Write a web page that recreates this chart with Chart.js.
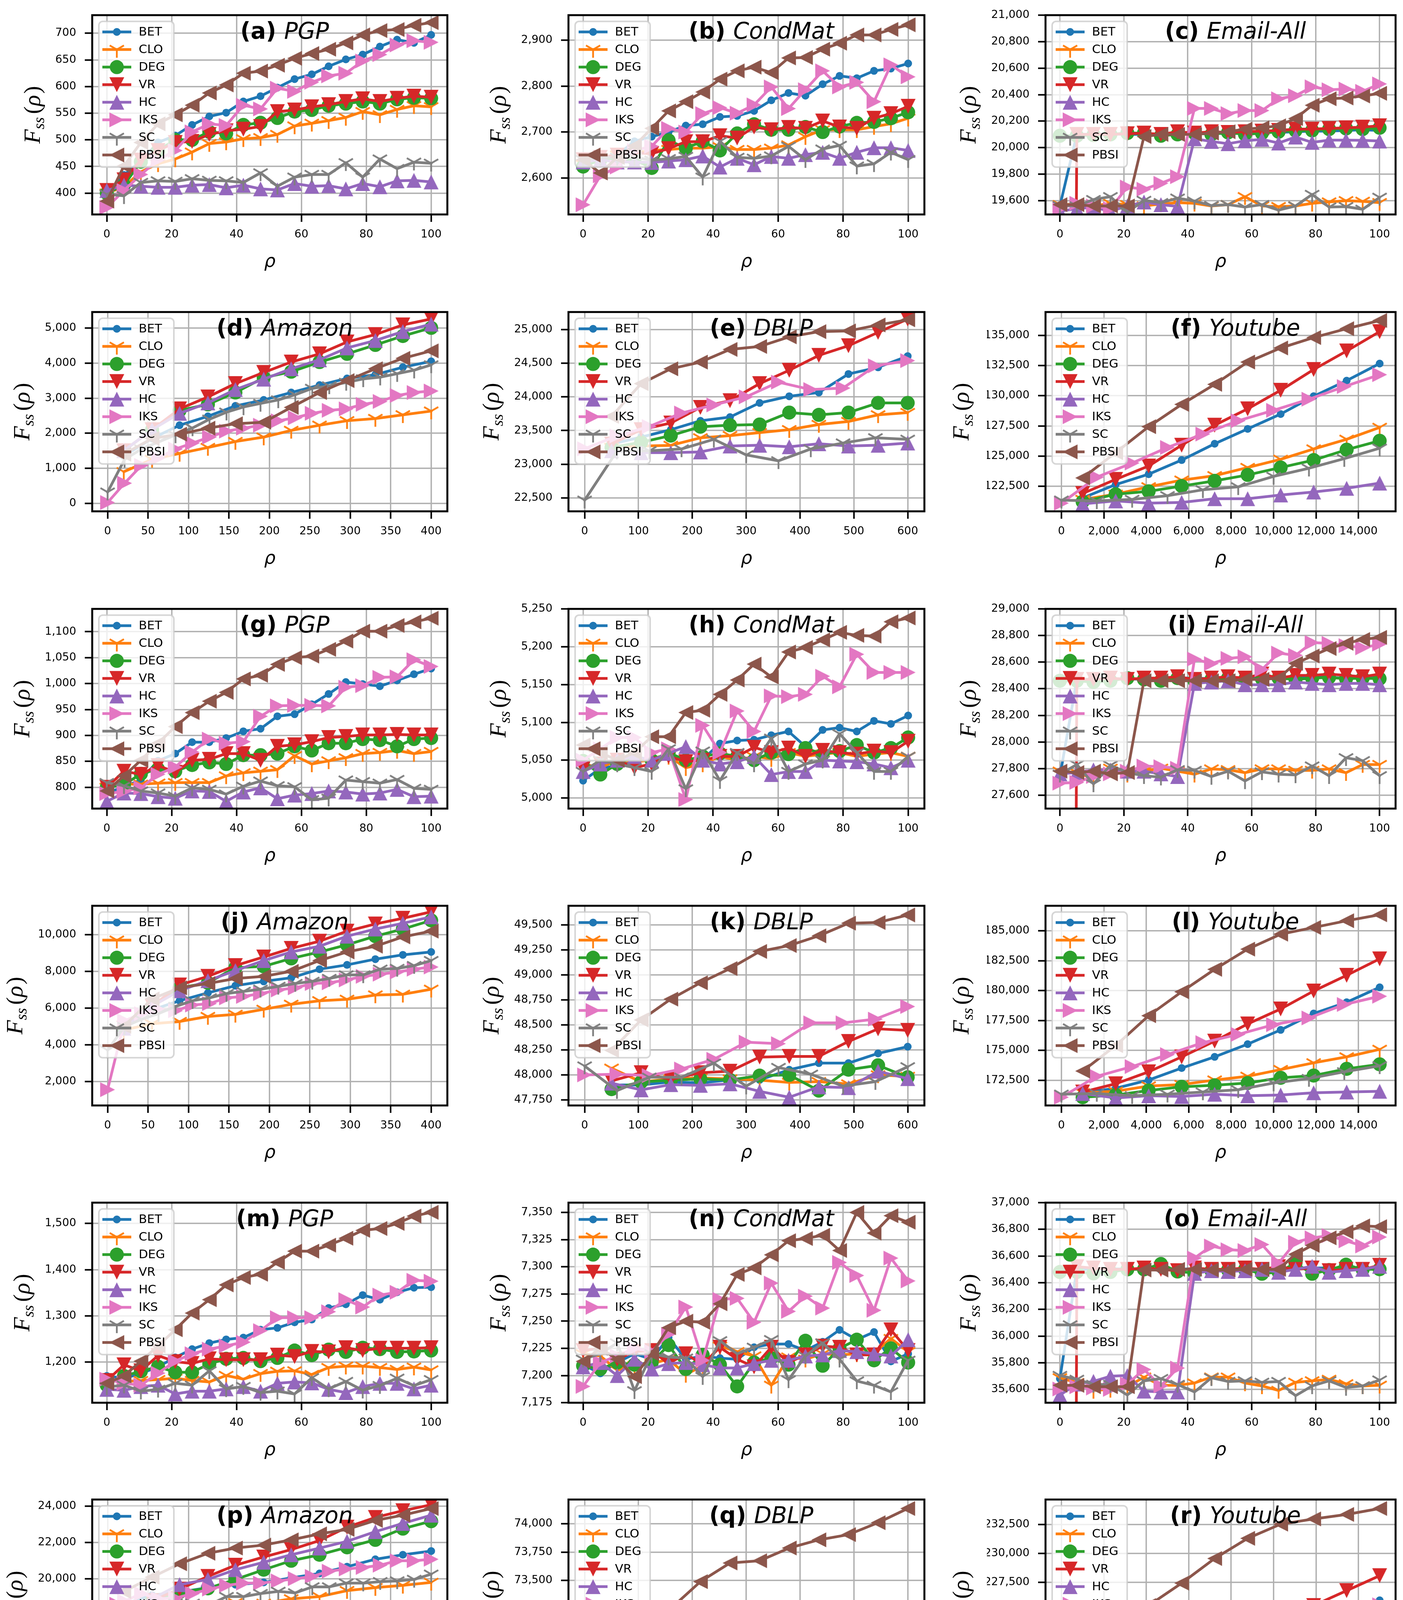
<!DOCTYPE html>
<html>
<head>
<meta charset="utf-8">
<script src="https://cdn.jsdelivr.net/npm/chart.js@4.4.1/dist/chart.umd.min.js"></script>
<style>
  body { margin: 0; background: #fff; }
  #fig { position: relative; width: 3591px; height: 4501px; background: #fff; }
  #fig canvas { position: absolute; }
</style>
</head>
<body>
<div id="fig"></div>
<script>
// series order used in every panel
const methods = ['BET', 'CLO', 'DEG', 'VR', 'HC', 'IKS', 'SC', 'PBSI'];
const colors = ['#1f77b4', '#ff7f0e', '#2ca02c', '#d62728', '#9467bd', '#e377c2', '#7f7f7f', '#8c564b'];

// x positions (rho)
const xP = [0, 5.3, 10.5, 15.8, 21.1, 26.3, 31.6, 36.8, 42.1, 47.4, 52.6, 57.9, 63.2, 68.4, 73.7, 78.9, 84.2, 89.5, 94.7, 100];
const xA0 = [0, 21, 42, 63, 84, 105, 126, 147, 168, 189, 211, 232, 253, 274, 295, 316, 337, 358, 379, 400];
const xA1 = [20, 55, 89, 124, 158, 193, 227, 262, 296, 331, 365, 400];
const xD0 = [0, 60, 120, 180, 240, 300, 360, 420, 480, 540, 600];
const xD1 = [50, 105, 160, 215, 270, 325, 380, 435, 490, 545, 600];
const xY0 = [0, 1667, 3333, 5000, 6667, 8333, 10000, 11667, 13333, 15000];
const xY1 = [1000, 2556, 4111, 5667, 7222, 8778, 10333, 11889, 13444, 15000];

// x tick labels
const xTicksP = [0, 20, 40, 60, 80, 100];
const xTicksA = [0, 50, 100, 150, 200, 250, 300, 350, 400];
const xTicksD = [0, 100, 200, 300, 400, 500, 600];
const xTicksY = [0, 2000, 4000, 6000, 8000, 10000, 12000, 14000];

// y tick labels per panel
const yTicksA = [400, 450, 500, 550, 600, 650, 700];
const yTicksB = [2600, 2700, 2800, 2900];
const yTicksC = [19600, 19800, 20000, 20200, 20400, 20600, 20800, 21000];
const yTicksD = [0, 1000, 2000, 3000, 4000, 5000];
const yTicksE = [22500, 23000, 23500, 24000, 24500, 25000];
const yTicksF = [122500, 125000, 127500, 130000, 132500, 135000];
const yTicksG = [800, 850, 900, 950, 1000, 1050, 1100];
const yTicksH = [5000, 5050, 5100, 5150, 5200, 5250];
const yTicksI = [27600, 27800, 28000, 28200, 28400, 28600, 28800, 29000];
const yTicksJ = [2000, 4000, 6000, 8000, 10000];
const yTicksK = [47750, 48000, 48250, 48500, 48750, 49000, 49250, 49500];
const yTicksL = [172500, 175000, 177500, 180000, 182500, 185000];
const yTicksM = [1200, 1300, 1400, 1500];
const yTicksN = [7175, 7200, 7225, 7250, 7275, 7300, 7325, 7350];
const yTicksO = [35600, 35800, 36000, 36200, 36400, 36600, 36800, 37000];
const yTicksP = [14000, 16000, 18000, 20000, 22000, 24000];
const yTicksQ = [72500, 72750, 73000, 73250, 73500, 73750, 74000];
const yTicksR = [217500, 220000, 222500, 225000, 227500, 230000, 232500];

// F_ss values, rows in the order BET, CLO, DEG, VR, HC, IKS, SC, PBSI
const fssA = [
  [400, 434, 460, 495, 508, 528, 544, 551, 572, 582, 598, 614, 623, 638, 651, 660, 675, 688, 682, 697],
  [400, 412, 440, 455, 464, 477, 493, 496, 502, 504, 510, 526, 531, 536, 542, 553, 547, 557, 564, 562],
  [400, 415, 459, 480, 500, 500, 515, 512, 528, 532, 541, 553, 556, 564, 568, 572, 568, 576, 579, 578],
  [405, 425, 462, 480, 495, 497, 510, 517, 520, 525, 553, 556, 562, 566, 572, 577, 572, 578, 582, 580],
  [405, 415, 413, 411, 411, 415, 416, 410, 415, 408, 406, 418, 413, 414, 408, 418, 412, 423, 424, 421],
  [373, 405, 435, 462, 480, 515, 530, 527, 565, 558, 597, 591, 608, 620, 625, 648, 660, 678, 686, 683],
  [398, 395, 420, 423, 422, 427, 424, 423, 420, 438, 413, 430, 435, 435, 457, 430, 464, 446, 458, 456],
  [385, 451, 495, 530, 547, 565, 588, 603, 625, 629, 640, 653, 662, 670, 682, 697, 705, 707, 715, 720]
];
const fssB = [
  [2625, 2640, 2650, 2680, 2690, 2700, 2714, 2717, 2733, 2735, 2746, 2769, 2785, 2779, 2804, 2822, 2817, 2833, 2838, 2849],
  [2630, 2645, 2650, 2655, 2660, 2662, 2665, 2665, 2668, 2662, 2662, 2665, 2672, 2690, 2705, 2705, 2705, 2712, 2718, 2730],
  [2625, 2640, 2640, 2640, 2622, 2682, 2665, 2680, 2660, 2697, 2717, 2705, 2705, 2711, 2700, 2712, 2720, 2722, 2730, 2743],
  [2640, 2645, 2650, 2655, 2653, 2664, 2679, 2679, 2692, 2687, 2711, 2705, 2710, 2708, 2724, 2711, 2708, 2730, 2740, 2756],
  [2635, 2640, 2635, 2635, 2634, 2637, 2640, 2648, 2624, 2643, 2629, 2647, 2643, 2651, 2656, 2643, 2656, 2666, 2666, 2660],
  [2542, 2605, 2624, 2660, 2669, 2708, 2700, 2740, 2753, 2741, 2759, 2798, 2751, 2792, 2833, 2798, 2808, 2766, 2846, 2820],
  [2640, 2645, 2645, 2645, 2639, 2642, 2647, 2602, 2680, 2645, 2643, 2648, 2669, 2640, 2663, 2671, 2626, 2631, 2656, 2640],
  [2640, 2611, 2645, 2670, 2708, 2746, 2766, 2787, 2815, 2833, 2841, 2829, 2861, 2862, 2880, 2893, 2911, 2911, 2923, 2933]
];
const fssC = [
  [19560, 20100, 20100, 20105, 20100, 20100, 20105, 20110, 20100, 20110, 20105, 20110, 20120, 20115, 20120, 20125, 20125, 20130, 20135, 20130],
  [19570, 19575, 19560, 19580, 19570, 19560, 19575, 19585, 19580, 19560, 19570, 19630, 19560, 19555, 19560, 19580, 19590, 19600, 19595, 19585],
  [20090, 20090, 20095, 20100, 20110, 20110, 20090, 20100, 20110, 20100, 20115, 20100, 20110, 20120, 20130, 20130, 20140, 20145, 20140, 20150],
  [0, 20100, 20100, 20100, 20105, 20110, 20100, 20120, 20110, 20120, 20115, 20120, 20125, 20130, 20140, 20140, 20145, 20150, 20155, 20165],
  [19520, 19540, 19550, 19520, 19560, 19590, 19570, 19557, 20067, 20047, 20030, 20052, 20063, 20035, 20080, 20040, 20057, 20057, 20055, 20050],
  [19540, 19580, 19560, 19540, 19703, 19686, 19731, 19781, 20296, 20296, 20257, 20280, 20280, 20369, 20392, 20459, 20437, 20442, 20425, 20481],
  [19563, 19560, 19608, 19630, 19513, 19602, 19585, 19619, 19597, 19563, 19570, 19552, 19570, 19529, 19560, 19647, 19552, 19555, 19535, 19625],
  [19570, 19570, 19560, 19560, 19560, 20084, 20100, 20100, 20100, 20110, 20120, 20140, 20150, 20165, 20220, 20320, 20369, 20375, 20390, 20410]
];
const fssD = [
  [1350, 1850, 2228, 2483, 2780, 2950, 3162, 3374, 3565, 3671, 3884, 4053],
  [900, 1250, 1422, 1592, 1762, 1889, 2080, 2228, 2356, 2419, 2525, 2632],
  [1500, 2100, 2650, 2823, 3162, 3586, 3756, 4032, 4266, 4520, 4775, 5008],
  [1500, 2100, 2695, 3035, 3417, 3735, 4032, 4266, 4605, 4817, 5093, 5263],
  [1500, 2100, 2568, 2865, 3247, 3544, 3841, 4096, 4435, 4648, 4902, 5115],
  [21, 573, 1082, 1294, 1549, 1719, 1889, 2059, 2144, 2228, 2356, 2441, 2568, 2653, 2695, 2823, 2907, 3077, 3162, 3205],
  [318, 1252, 1549, 1750, 1950, 2150, 2400, 2600, 2750, 2850, 2950, 3100, 3280, 3350, 3450, 3550, 3600, 3700, 3800, 3950],
  [1400, 1850, 1974, 2144, 2271, 2313, 2738, 3162, 3502, 3841, 4138, 4351]
];
const fssE = [
  [23300, 23403, 23513, 23645, 23700, 23910, 24009, 24064, 24339, 24438, 24604],
  [23250, 23271, 23280, 23392, 23425, 23469, 23513, 23590, 23634, 23733, 23767],
  [23250, 23326, 23425, 23557, 23579, 23590, 23767, 23733, 23767, 23910, 23910],
  [23300, 23513, 23612, 23843, 23943, 24196, 24394, 24615, 24758, 24956, 25154],
  [23200, 23172, 23172, 23183, 23271, 23282, 23260, 23304, 23271, 23282, 23315],
  [23230, 23420, 23560, 23760, 23880, 24000, 24218, 24108, 24130, 24460, 24537],
  [22467, 23194, 23200, 23227, 23370, 23139, 23051, 23227, 23315, 23392, 23370],
  [23711, 24196, 24416, 24515, 24703, 24747, 24890, 24967, 24978, 25066, 25143]
];
const fssF = [
  [121541, 122647, 123508, 124676, 126028, 127257, 128486, 129961, 131251, 132665],
  [121418, 121849, 122463, 123016, 123385, 124061, 124737, 125597, 126396, 127380],
  [121234, 121849, 122094, 122525, 122955, 123447, 124061, 124676, 125536, 126273],
  [121910, 123078, 124184, 125905, 127564, 128916, 130452, 132173, 133709, 135307],
  [121050, 121296, 121111, 121173, 121480, 121480, 121787, 122033, 122340, 122770],
  [121111, 123262, 124430, 125720, 126827, 127933, 128793, 129715, 130760, 131744],
  [121357, 121296, 121418, 121726, 122217, 122463, 123324, 124000, 124799, 125659],
  [123200, 125290, 127441, 129285, 130944, 132788, 133955, 134816, 135553, 136229]
];
const fssG = [
  [790, 800, 815, 851, 865, 887, 887, 895, 908, 913, 937, 941, 960, 980, 1003, 999, 995, 1006, 1018, 1029],
  [800, 806, 806, 808, 809, 809, 809, 822, 828, 831, 834, 861, 845, 851, 857, 865, 867, 871, 865, 869],
  [800, 805, 826, 835, 831, 843, 848, 845, 862, 862, 865, 879, 871, 885, 885, 893, 891, 879, 893, 895],
  [800, 831, 825, 842, 829, 852, 854, 865, 865, 852, 879, 882, 888, 896, 898, 901, 901, 902, 901, 901],
  [773, 789, 788, 782, 779, 793, 792, 773, 791, 799, 778, 785, 788, 793, 791, 787, 789, 796, 782, 783],
  [788, 792, 799, 825, 839, 868, 893, 885, 888, 937, 957, 958, 958, 957, 993, 996, 1012, 1013, 1046, 1033],
  [809, 803, 793, 789, 783, 799, 796, 787, 802, 812, 803, 801, 776, 779, 814, 811, 808, 815, 798, 796],
  [793, 822, 852, 885, 917, 944, 966, 983, 1009, 1016, 1037, 1050, 1053, 1066, 1082, 1101, 1101, 1112, 1119, 1126]
];
const fssH = [
  [5023, 5039, 5043, 5050, 5050, 5055, 5049, 5051, 5072, 5076, 5077, 5083, 5088, 5068, 5090, 5093, 5088, 5102, 5098, 5109],
  [5045, 5040, 5050, 5048, 5050, 5055, 5040, 5045, 5055, 5050, 5055, 5052, 5060, 5055, 5058, 5060, 5055, 5058, 5060, 5055],
  [5049, 5031, 5045, 5055, 5050, 5060, 5050, 5055, 5059, 5055, 5050, 5060, 5058, 5066, 5058, 5062, 5070, 5060, 5066, 5080],
  [5039, 5045, 5050, 5040, 5045, 5055, 5048, 5050, 5055, 5055, 5067, 5060, 5066, 5055, 5063, 5060, 5058, 5062, 5060, 5075],
  [5035, 5045, 5050, 5055, 5050, 5059, 5068, 5050, 5045, 5048, 5055, 5031, 5035, 5035, 5050, 5049, 5048, 5045, 5040, 5050],
  [5050, 5065, 5080, 5080, 5060, 5065, 4998, 5096, 5060, 5115, 5088, 5135, 5134, 5137, 5161, 5147, 5190, 5166, 5166, 5166],
  [5035, 5050, 5045, 5040, 5035, 5065, 5012, 5062, 5023, 5060, 5045, 5079, 5035, 5045, 5050, 5085, 5060, 5035, 5035, 5055],
  [5070, 5060, 5050, 5060, 5081, 5081, 5113, 5116, 5137, 5156, 5177, 5160, 5193, 5199, 5209, 5219, 5215, 5214, 5233, 5238]
];
const fssI = [
  [27740, 28470, 28470, 28475, 28470, 28475, 28470, 28480, 28480, 28475, 28480, 28480, 28485, 28480, 28485, 28490, 28485, 28480, 28485, 28480],
  [27780, 27770, 27724, 27802, 27757, 27780, 27802, 27780, 27757, 27797, 27791, 27769, 27797, 27797, 27786, 27786, 27797, 27769, 27830, 27830],
  [28460, 28460, 28450, 28460, 28480, 28470, 28460, 28480, 28460, 28470, 28480, 28470, 28475, 28480, 28470, 28480, 28485, 28475, 28480, 28475],
  [0, 28470, 28470, 28480, 28470, 28480, 28480, 28490, 28470, 28480, 28490, 28480, 28510, 28480, 28500, 28500, 28510, 28500, 28490, 28510],
  [27760, 27770, 27790, 27790, 27780, 27780, 27760, 27740, 28440, 28450, 28460, 28430, 28430, 28430, 28450, 28440, 28430, 28440, 28440, 28430],
  [27690, 27696, 27740, 27760, 27780, 27819, 27814, 27802, 28623, 28589, 28628, 28640, 28544, 28668, 28651, 28747, 28741, 28724, 28707, 28735],
  [27757, 27830, 27684, 27825, 27769, 27746, 27735, 27791, 27786, 27740, 27780, 27707, 27775, 27757, 27752, 27819, 27746, 27881, 27859, 27746],
  [27780, 27770, 27780, 27760, 27770, 28460, 28460, 28460, 28460, 28460, 28460, 28470, 28470, 28480, 28590, 28646, 28702, 28741, 28770, 28786]
];
const fssJ = [
  [5000, 5900, 6399, 6830, 7221, 7456, 7652, 8121, 8356, 8669, 8904, 9061],
  [4800, 5147, 5264, 5538, 5656, 5930, 6204, 6399, 6477, 6712, 6751, 7025],
  [4900, 6100, 7104, 7378, 8200, 8278, 8708, 9061, 9452, 9922, 10313, 10783],
  [4900, 6100, 7260, 7730, 8317, 8787, 9256, 9648, 10196, 10587, 10900, 11252],
  [4900, 6100, 6947, 7495, 8043, 8591, 9061, 9374, 9922, 10313, 10626, 10978],
  [1546, 5303, 5695, 5930, 5852, 6165, 6243, 6556, 6634, 6790, 6986, 7104, 7339, 7378, 7534, 7730, 7847, 7965, 8121, 8239],
  [3699, 4990, 5382, 5700, 6086, 6399, 6556, 6790, 6908, 7025, 7182, 7339, 7456, 7613, 7808, 7808, 8121, 8160, 8317, 8591],
  [5000, 6500, 7104, 7339, 7613, 7730, 8004, 8591, 9061, 9374, 9883, 10196]
];
const fssK = [
  [47900, 47900, 47930, 47920, 47950, 47950, 48052, 48118, 48118, 48215, 48282],
  [48067, 47930, 47960, 47970, 47960, 47948, 47925, 47933, 47910, 48000, 47985],
  [47858, 47930, 47948, 47960, 47950, 47993, 48000, 47843, 48052, 48096, 47977],
  [47940, 48022, 47955, 48022, 48037, 48178, 48185, 48185, 48334, 48460, 48445],
  [47918, 47851, 47903, 47896, 47911, 47836, 47777, 47881, 47873, 48037, 47963],
  [48000, 48007, 47993, 48059, 48156, 48327, 48312, 48520, 48520, 48557, 48683],
  [48089, 47843, 47977, 47977, 48118, 47888, 48074, 48007, 47888, 47933, 48081],
  [48245, 48549, 48757, 48920, 49062, 49233, 49292, 49389, 49515, 49522, 49597]
];
const fssL = [
  [171461, 171836, 172525, 173526, 174464, 175528, 176717, 178093, 179032, 180283],
  [171461, 171586, 172024, 172149, 172525, 172838, 173401, 173964, 174464, 175090],
  [171086, 171274, 171649, 171962, 172087, 172275, 172713, 172900, 173464, 173839],
  [171524, 172212, 173213, 174464, 175779, 177218, 178469, 179971, 181285, 182660],
  [171399, 171023, 171211, 171148, 171336, 171211, 171274, 171461, 171524, 171586],
  [171086, 172838, 173651, 174652, 175653, 176341, 177155, 177718, 178844, 179532],
  [171336, 171399, 171211, 171336, 171524, 171712, 172275, 172650, 173213, 173714],
  [173276, 175403, 177906, 179908, 181785, 183474, 184725, 185288, 185851, 186351]
];
const fssM = [
  [1170, 1165, 1175, 1190, 1210, 1228, 1241, 1249, 1253, 1270, 1274, 1286, 1292, 1317, 1325, 1345, 1335, 1351, 1361, 1362],
  [1160, 1158, 1160, 1162, 1165, 1160, 1157, 1171, 1163, 1175, 1180, 1181, 1173, 1188, 1191, 1191, 1188, 1184, 1189, 1183],
  [1150, 1170, 1180, 1190, 1178, 1178, 1196, 1207, 1209, 1202, 1209, 1225, 1215, 1227, 1222, 1231, 1228, 1222, 1223, 1225],
  [1160, 1194, 1181, 1214, 1201, 1197, 1207, 1205, 1205, 1205, 1215, 1212, 1223, 1222, 1231, 1225, 1230, 1230, 1230, 1231],
  [1141, 1139, 1147, 1150, 1131, 1137, 1137, 1142, 1147, 1137, 1154, 1157, 1155, 1141, 1134, 1147, 1154, 1154, 1142, 1150],
  [1163, 1154, 1150, 1176, 1202, 1218, 1228, 1235, 1243, 1268, 1296, 1296, 1296, 1309, 1335, 1319, 1345, 1351, 1377, 1375],
  [1146, 1150, 1137, 1141, 1154, 1150, 1181, 1142, 1147, 1134, 1137, 1131, 1166, 1142, 1158, 1139, 1149, 1165, 1149, 1162],
  [1154, 1170, 1202, 1235, 1270, 1306, 1335, 1367, 1383, 1390, 1416, 1440, 1440, 1453, 1468, 1485, 1489, 1500, 1516, 1524]
];
const fssN = [
  [7210, 7202, 7212, 7220, 7215, 7235, 7215, 7218, 7216, 7215, 7226, 7229, 7229, 7223, 7231, 7242, 7233, 7240, 7213, 7220],
  [7220, 7218, 7205, 7209, 7211, 7215, 7201, 7209, 7227, 7222, 7218, 7191, 7217, 7215, 7220, 7219, 7220, 7221, 7234, 7222],
  [7209, 7206, 7212, 7210, 7212, 7228, 7206, 7219, 7210, 7190, 7212, 7216, 7210, 7232, 7209, 7225, 7233, 7214, 7225, 7212],
  [7223, 7225, 7215, 7222, 7223, 7211, 7220, 7210, 7226, 7215, 7208, 7226, 7212, 7219, 7227, 7226, 7219, 7219, 7242, 7223],
  [7208, 7212, 7200, 7215, 7206, 7211, 7212, 7210, 7207, 7207, 7211, 7214, 7214, 7218, 7219, 7223, 7222, 7220, 7218, 7233],
  [7190, 7212, 7218, 7225, 7222, 7238, 7263, 7214, 7270, 7271, 7249, 7285, 7259, 7273, 7262, 7304, 7292, 7260, 7308, 7287],
  [7215, 7220, 7230, 7186, 7220, 7217, 7216, 7199, 7232, 7220, 7226, 7233, 7196, 7218, 7230, 7215, 7195, 7191, 7185, 7214],
  [7213, 7225, 7215, 7199, 7220, 7244, 7250, 7249, 7266, 7293, 7299, 7311, 7324, 7326, 7329, 7315, 7350, 7331, 7347, 7341]
];
const fssO = [
  [35680, 36500, 36500, 36505, 36500, 36500, 36495, 36500, 36505, 36500, 36495, 36500, 36500, 36505, 36500, 36510, 36510, 36505, 36510, 36510],
  [35687, 35650, 35592, 35600, 35620, 35692, 35631, 35630, 35648, 35692, 35692, 35648, 35626, 35592, 35653, 35664, 35675, 35642, 35626, 35631],
  [36480, 36480, 36470, 36480, 36500, 36500, 36540, 36484, 36473, 36490, 36495, 36500, 36467, 36480, 36546, 36467, 36495, 36535, 36500, 36501],
  [0, 36520, 36510, 36500, 36500, 36510, 36500, 36490, 36510, 36500, 36500, 36510, 36500, 36520, 36500, 36510, 36490, 36500, 36500, 36530],
  [35558, 35640, 35660, 35699, 35704, 35587, 35581, 35581, 36470, 36490, 36484, 36490, 36500, 36478, 36500, 36523, 36478, 36490, 36500, 36523],
  [35603, 35620, 35610, 35600, 35640, 35749, 35626, 35760, 36585, 36675, 36647, 36641, 36686, 36546, 36703, 36736, 36753, 36714, 36675, 36742],
  [35704, 35675, 35637, 35637, 35558, 35664, 35681, 35637, 35581, 35687, 35659, 35664, 35653, 35659, 35553, 35626, 35664, 35614, 35626, 35670],
  [35631, 35630, 35620, 35620, 35620, 36495, 36495, 36500, 36500, 36495, 36495, 36500, 36500, 36500, 36613, 36680, 36736, 36781, 36826, 36820]
];
const fssP = [
  [18600, 19100, 19267, 19514, 19679, 19802, 20049, 20296, 20667, 21078, 21325, 21531],
  [18000, 18100, 18280, 18485, 18691, 18650, 18897, 19020, 19350, 19514, 19638, 19802],
  [18300, 18800, 19267, 19473, 19967, 20502, 20996, 21325, 21736, 22148, 22765, 23176],
  [18300, 18800, 19432, 20131, 20749, 21201, 21613, 22107, 22847, 23382, 23753, 24082],
  [18300, 18900, 19679, 19967, 20502, 20913, 21325, 21695, 22065, 22600, 23053, 23506],
  [13794, 18773, 19185, 18900, 18938, 19185, 19432, 19638, 19761, 19761, 19884, 20008, 20131, 20419, 20543, 20625, 20749, 20996, 20996, 21078],
  [18197, 18280, 18362, 18568, 18650, 18650, 18568, 19020, 19020, 19185, 19308, 19226, 19555, 19555, 19761, 19761, 19843, 19884, 19967, 20255],
  [19300, 20090, 20831, 21407, 21695, 21860, 22148, 22477, 22724, 23218, 23506, 23876]
];
const fssQ = [
  [72767, 72668, 72635, 72675, 72642, 72668, 72688, 72675, 72695, 72714, 72668],
  [72629, 72622, 72570, 72576, 72688, 72655, 72668, 72622, 72688, 72714, 72681],
  [72655, 72767, 72603, 72649, 72635, 72642, 72695, 72727, 72616, 72629, 72635],
  [72734, 72655, 72741, 72635, 72622, 72675, 72688, 72668, 72767, 72826, 72734],
  [72583, 72517, 72662, 72622, 72629, 72589, 72589, 72530, 72708, 72760, 72583],
  [72741, 72681, 72767, 72589, 72911, 72885, 72997, 73017, 72997, 72957, 73135],
  [72714, 72819, 72557, 72701, 72695, 72517, 72754, 72741, 72662, 72589, 72616],
  [72865, 72977, 73253, 73490, 73654, 73674, 73786, 73858, 73904, 74009, 74134]
];
const fssR = [
  [218363, 218684, 219264, 220101, 220873, 221774, 222740, 223834, 225057, 225958],
  [218169, 218491, 218878, 218878, 219006, 219392, 219650, 219972, 220487, 220873],
  [218169, 218041, 218620, 218813, 219071, 219071, 219135, 219328, 219714, 219779],
  [218427, 219071, 219779, 220809, 221774, 223061, 224220, 225508, 226795, 228083],
  [218234, 218105, 218041, 218105, 218234, 218169, 218363, 218298, 218298, 218363],
  [218041, 219650, 220680, 221452, 222160, 222933, 223512, 224027, 224735, 225572],
  [218234, 218298, 218169, 218169, 218684, 218620, 218749, 219199, 219457, 219779],
  [220551, 223319, 225508, 227439, 229563, 231301, 232524, 232975, 233361, 233876]
];

// which x positions each series uses, by network
const xSets = {
  P: [xP, xP, xP, xP, xP, xP, xP, xP],
  A: [xA1, xA1, xA1, xA1, xA1, xA0, xA0, xA1],
  D: [xD1, xD1, xD1, xD1, xD1, xD0, xD0, xD1],
  Y: [xY1, xY1, xY1, xY1, xY1, xY0, xY0, xY1]
};
const xRange = { P: [-4.5, 105], A: [-19, 420], D: [-30, 631], Y: [-750, 15750] };
const xTicks = { P: xTicksP, A: xTicksA, D: xTicksD, Y: xTicksY };

const panels = [
  { tag: '(a)', name: 'PGP',       kind: 'P', fss: fssA, ylim: [360, 734],       yt: yTicksA },
  { tag: '(b)', name: 'CondMat',   kind: 'P', fss: fssB, ylim: [2521, 2954],     yt: yTicksB },
  { tag: '(c)', name: 'Email-All', kind: 'P', fss: fssC, ylim: [19496, 21000],   yt: yTicksC },
  { tag: '(d)', name: 'Amazon',    kind: 'A', fss: fssD, ylim: [-230, 5460],     yt: yTicksD },
  { tag: '(e)', name: 'DBLP',      kind: 'D', fss: fssE, ylim: [22302, 25258],   yt: yTicksE },
  { tag: '(f)', name: 'Youtube',   kind: 'Y', fss: fssF, ylim: [120435, 136930], yt: yTicksF },
  { tag: '(g)', name: 'PGP',       kind: 'P', fss: fssG, ylim: [759, 1144],      yt: yTicksG },
  { tag: '(h)', name: 'CondMat',   kind: 'P', fss: fssH, ylim: [4986, 5250],     yt: yTicksH },
  { tag: '(i)', name: 'Email-All', kind: 'P', fss: fssI, ylim: [27499, 29000],   yt: yTicksI },
  { tag: '(j)', name: 'Amazon',    kind: 'A', fss: fssJ, ylim: [685, 11581],     yt: yTicksJ },
  { tag: '(k)', name: 'DBLP',      kind: 'D', fss: fssK, ylim: [47695, 49689],   yt: yTicksK },
  { tag: '(l)', name: 'Youtube',   kind: 'Y', fss: fssL, ylim: [170398, 187102], yt: yTicksL },
  { tag: '(m)', name: 'PGP',       kind: 'P', fss: fssM, ylim: [1112, 1545],     yt: yTicksM },
  { tag: '(n)', name: 'CondMat',   kind: 'P', fss: fssN, ylim: [7175, 7359],     yt: yTicksN },
  { tag: '(o)', name: 'Email-All', kind: 'P', fss: fssO, ylim: [35500, 37000],   yt: yTicksO },
  { tag: '(p)', name: 'Amazon',    kind: 'A', fss: fssP, ylim: [13342, 24370],   yt: yTicksP },
  { tag: '(q)', name: 'DBLP',      kind: 'D', fss: fssQ, ylim: [72451, 74213],   yt: yTicksQ },
  { tag: '(r)', name: 'Youtube',   kind: 'Y', fss: fssR, ylim: [217397, 234648], yt: yTicksR }
];

// ---- geometry of the grid of subplots ----
const plotLeft = [236, 1455, 2676];
const plotRight = [1145, 2366, 3584];
const plotTop = [14, 774, 1535, 2295, 3056, 3816];
const PLOT_H = 535;
const Y_AXIS_W = 150, X_AXIS_H = 120;
const TICK_LEN = 19, Y_PAD = 22;

const SANS = "'DejaVu Sans', sans-serif";
const SERIF = "'Liberation Serif', 'DejaVu Serif', serif";
const TICK_SIZE = 28;

// marker images (matplotlib style markers)
function triImg(color) {
  const s = 42, c = document.createElement('canvas');
  c.width = s; c.height = s;
  const g = c.getContext('2d');
  g.fillStyle = color;
  g.beginPath();
  g.moveTo(s / 2, 2); g.lineTo(s - 2, s - 2); g.lineTo(2, s - 2);
  g.closePath(); g.fill();
  return c;
}
function triDownLines(color) {
  const s = 48, c = document.createElement('canvas');
  c.width = s; c.height = s;
  const g = c.getContext('2d');
  const m = s / 2, L = 21;
  g.strokeStyle = color; g.lineWidth = 4.5;
  g.beginPath();
  g.moveTo(m, m); g.lineTo(m, m + L);
  g.moveTo(m, m); g.lineTo(m - L * 0.866, m - L * 0.5);
  g.moveTo(m, m); g.lineTo(m + L * 0.866, m - L * 0.5);
  g.stroke();
  return c;
}
const markers = [
  { style: 'circle', r: 10, rot: 0 },
  { style: triDownLines(colors[1]), r: 18, rot: 0 },
  { style: 'circle', r: 18, rot: 0 },
  { style: triImg(colors[3]), r: 18, rot: 180 },
  { style: triImg(colors[4]), r: 18, rot: 0 },
  { style: triImg(colors[5]), r: 18, rot: 90 },
  { style: triDownLines(colors[6]), r: 18, rot: 0 },
  { style: triImg(colors[7]), r: 19, rot: 270 }
];

function drawMarker(ctx, i, x, y) {
  const mk = markers[i];
  if (mk.style === 'circle') {
    ctx.fillStyle = colors[i];
    ctx.beginPath(); ctx.arc(x, y, mk.r, 0, Math.PI * 2); ctx.fill();
  } else {
    ctx.save();
    ctx.translate(x, y); ctx.rotate(mk.rot * Math.PI / 180);
    ctx.drawImage(mk.style, -mk.style.width / 2, -mk.style.height / 2);
    ctx.restore();
  }
}

function drawLegend(ctx, ca) {
  const lx = ca.left + 17, ly = ca.top + 16, lw = 192, lh = 373;
  ctx.save();
  ctx.beginPath();
  ctx.roundRect(lx, ly, lw, lh, 10);
  ctx.fillStyle = 'rgba(255,255,255,0.8)';
  ctx.fill();
  ctx.lineWidth = 4;
  ctx.strokeStyle = 'rgba(204,204,204,0.8)';
  ctx.stroke();
  ctx.font = '31px ' + SANS;
  ctx.textBaseline = 'middle';
  ctx.textAlign = 'left';
  methods.forEach((m, i) => {
    const cy = ly + 27 + i * 45;
    ctx.strokeStyle = colors[i];
    ctx.lineWidth = 7;
    ctx.beginPath(); ctx.moveTo(lx + 9, cy); ctx.lineTo(lx + 83, cy); ctx.stroke();
    drawMarker(ctx, i, lx + 46, cy);
    ctx.fillStyle = '#000';
    ctx.fillText(m, lx + 102, cy + 1);
  });
  ctx.restore();
}

function drawTitle(ctx, ca, p) {
  const f1 = 'bold 58px ' + SANS, f2 = 'italic 58px ' + SANS, gap = 20;
  ctx.save();
  ctx.font = f1; const w1 = ctx.measureText(p.tag).width;
  ctx.font = f2; const w2 = ctx.measureText(p.name).width;
  const x0 = (ca.left + ca.right) / 2 + 38 - (w1 + gap + w2) / 2;
  const by = ca.top + 60;
  ctx.fillStyle = '#000'; ctx.textBaseline = 'alphabetic'; ctx.textAlign = 'left';
  ctx.font = f1; ctx.fillText(p.tag, x0, by);
  ctx.font = f2; ctx.fillText(p.name, x0 + w1 + gap, by);
  ctx.restore();
}

function drawAxisLabels(ctx, chart) {
  const ca = chart.chartArea;
  ctx.save();
  // y label: F_ss(rho), rotated
  ctx.font = TICK_SIZE + 'px ' + SANS;
  let maxW = 0;
  chart.scales.y.ticks.forEach(t => {
    maxW = Math.max(maxW, ctx.measureText(t.value.toLocaleString('en-US')).width);
  });
  const cx = ca.left - TICK_LEN - Y_PAD - maxW - 58;
  const cy = (ca.top + ca.bottom) / 2;
  const parts = [
    { t: 'F', f: 'italic 60px ' + SERIF, dy: 0, after: 0 },
    { t: 'ss', f: 'italic 40px ' + SERIF, dy: 11, after: 8 },
    { t: '(', f: '60px ' + SERIF, dy: 0, after: 0 },
    { t: '\u03C1', f: 'italic 60px ' + SERIF, dy: 0, after: 3 },
    { t: ')', f: '60px ' + SERIF, dy: 0, after: 0 }
  ];
  let total = 0;
  parts.forEach(pt => { ctx.font = pt.f; pt.w = ctx.measureText(pt.t).width; total += pt.w + pt.after; });
  ctx.translate(cx, cy);
  ctx.rotate(-Math.PI / 2);
  ctx.fillStyle = '#000'; ctx.textBaseline = 'alphabetic'; ctx.textAlign = 'left';
  let x = -total / 2;
  parts.forEach(pt => { ctx.font = pt.f; ctx.fillText(pt.t, x, 18 + pt.dy); x += pt.w + pt.after; });
  ctx.restore();

  // x label: rho
  ctx.save();
  ctx.font = 'italic 46px ' + SANS;
  ctx.fillStyle = '#000'; ctx.textAlign = 'center'; ctx.textBaseline = 'middle';
  ctx.fillText('\u03C1', (ca.left + ca.right) / 2, ca.bottom + 122);
  ctx.restore();
}

function decor(p) {
  return {
    id: 'decor',
    afterDatasetsDraw(chart) {
      const ctx = chart.ctx, ca = chart.chartArea;
      ctx.save();
      ctx.strokeStyle = '#000';
      ctx.lineWidth = 5;
      ctx.strokeRect(ca.left, ca.top, ca.right - ca.left, ca.bottom - ca.top);
      ctx.restore();
      drawLegend(ctx, ca);
      drawTitle(ctx, ca, p);
      drawAxisLabels(ctx, chart);
    }
  };
}

const fig = document.getElementById('fig');

panels.forEach((p, k) => {
  const row = Math.floor(k / 3), col = k % 3;
  const x0 = col * 1200, y0 = row * 760;
  const W = col === 2 ? 1191 : 1200;
  const H = row === 5 ? 701 : 760;
  const cv = document.createElement('canvas');
  cv.width = W; cv.height = H;
  cv.style.left = x0 + 'px'; cv.style.top = y0 + 'px';
  cv.style.width = W + 'px'; cv.style.height = H + 'px';
  fig.appendChild(cv);

  const padL = plotLeft[col] - x0 - Y_AXIS_W;
  const padR = W - (plotRight[col] - x0);
  const padT = plotTop[row] - y0;
  const padB = H - padT - PLOT_H - X_AXIS_H;

  const xs = xSets[p.kind];
  const datasets = methods.map((m, i) => ({
    label: m,
    data: xs[i].map((x, j) => ({ x: x, y: p.fss[i][j] })),
    borderColor: colors[i],
    backgroundColor: colors[i],
    borderWidth: 7,
    borderJoinStyle: 'round',
    borderCapStyle: 'round',
    pointStyle: markers[i].style,
    pointRadius: markers[i].r,
    pointRotation: markers[i].rot,
    pointBackgroundColor: colors[i],
    pointBorderColor: colors[i],
    pointBorderWidth: 0,
    tension: 0,
    order: 7 - i
  }));

  const tickFont = { family: SANS, size: TICK_SIZE };
  const gridOpts = { color: '#b0b0b0', lineWidth: 3.5, tickColor: '#000', tickWidth: 4, tickLength: TICK_LEN, drawTicks: true };

  new Chart(cv, {
    type: 'line',
    data: { datasets: datasets },
    options: {
      responsive: false,
      animation: false,
      devicePixelRatio: 1,
      locale: 'en-US',
      events: [],
      layout: { padding: { left: padL, right: padR, top: padT, bottom: padB } },
      plugins: { legend: { display: false }, tooltip: { enabled: false }, title: { display: false } },
      scales: {
        x: {
          type: 'linear',
          min: xRange[p.kind][0], max: xRange[p.kind][1],
          afterBuildTicks: s => { s.ticks = xTicks[p.kind].map(v => ({ value: v })); },
          afterFit: s => { s.height = X_AXIS_H; },
          ticks: { font: tickFont, color: '#000', padding: 16, maxRotation: 0, autoSkip: false,
                   callback: v => Number(v).toLocaleString('en-US') },
          grid: gridOpts,
          border: { display: false }
        },
        y: {
          type: 'linear',
          min: p.ylim[0], max: p.ylim[1],
          afterBuildTicks: s => { s.ticks = p.yt.map(v => ({ value: v })); },
          afterFit: s => { s.width = Y_AXIS_W; },
          ticks: { font: tickFont, color: '#000', padding: Y_PAD, autoSkip: false,
                   callback: v => Number(v).toLocaleString('en-US') },
          grid: gridOpts,
          border: { display: false }
        }
      }
    },
    plugins: [decor(p)]
  });
});
</script>
</body>
</html>
